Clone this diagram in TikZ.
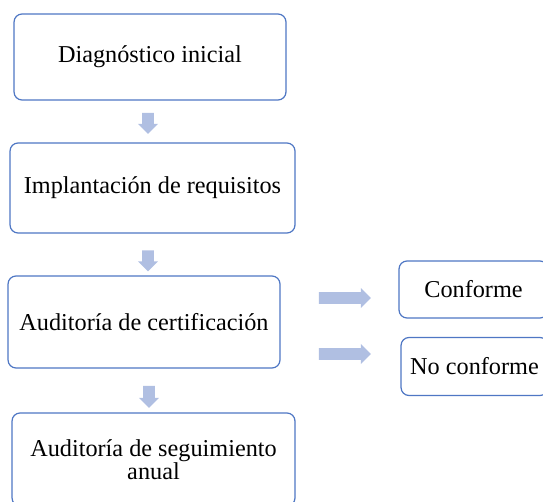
\documentclass[tikz,border=0pt]{standalone}
\usepackage{fontspec}
\setmainfont{Liberation Serif}
\usetikzlibrary{positioning}
\usetikzlibrary{shapes.arrows}
\definecolor{boxblue}{RGB}{79,119,196}
\definecolor{arrowblue}{RGB}{176,191,226}
\tikzset{
etapa/.style={
  rectangle,
  rounded corners=0.16cm,
  draw=boxblue,
  line width=0.7pt,
  fill=white,
  align=center,
  font=\fontsize{13.8}{13.2}\selectfont
  },
flecha/.style={
  single arrow,
  fill=arrowblue,
  draw=none,
  inner sep=3.1pt,
  single arrow head extend=0.085cm,
  single arrow tip angle=90
  }
}
\begin{document}
\begin{tikzpicture}[x=0.02cm,y=-0.02cm]
            \useasboundingbox (0,0) rectangle (543,502);
            \clip (0,0) rectangle (543,502);
            \node[etapa,minimum width=5.44cm,minimum height=1.72cm] (diag) at (150,57) {Diagnóstico inicial};
            \node[etapa,minimum width=5.70cm,minimum height=1.80cm] (impl) at (152.5,188) {Implantación de requisitos};
            \node[etapa,minimum width=5.44cm,minimum height=1.84cm] (cert) at (144,322) {Auditoría de certificación};
            \node[etapa,minimum width=5.66cm,minimum height=1.86cm] (segu) at (153.5,459.5) {Auditoría de seguimiento\\anual};
            \node[etapa,minimum width=2.98cm,minimum height=1.14cm] (conf) at (473.5,289.5) {Conforme};
            \node[etapa,minimum width=2.94cm,minimum height=1.16cm] (noconf) at (474.5,366.5) {No conforme};
            % flechas entre etapas
            \node[flecha,shape border rotate=270,minimum height=0.42cm] (f1) at (148,120.5) {};
            \node[flecha,shape border rotate=270,minimum height=0.42cm] (f2) at (148,258) {};
            \node[flecha,shape border rotate=270,minimum height=0.44cm] (f3) at (149,394) {};
            \node[flecha,minimum height=1.04cm] (f4) at (342,298) {};
            \node[flecha,minimum height=1.04cm] (f5) at (342,354) {};
        \end{tikzpicture}
\end{document}
